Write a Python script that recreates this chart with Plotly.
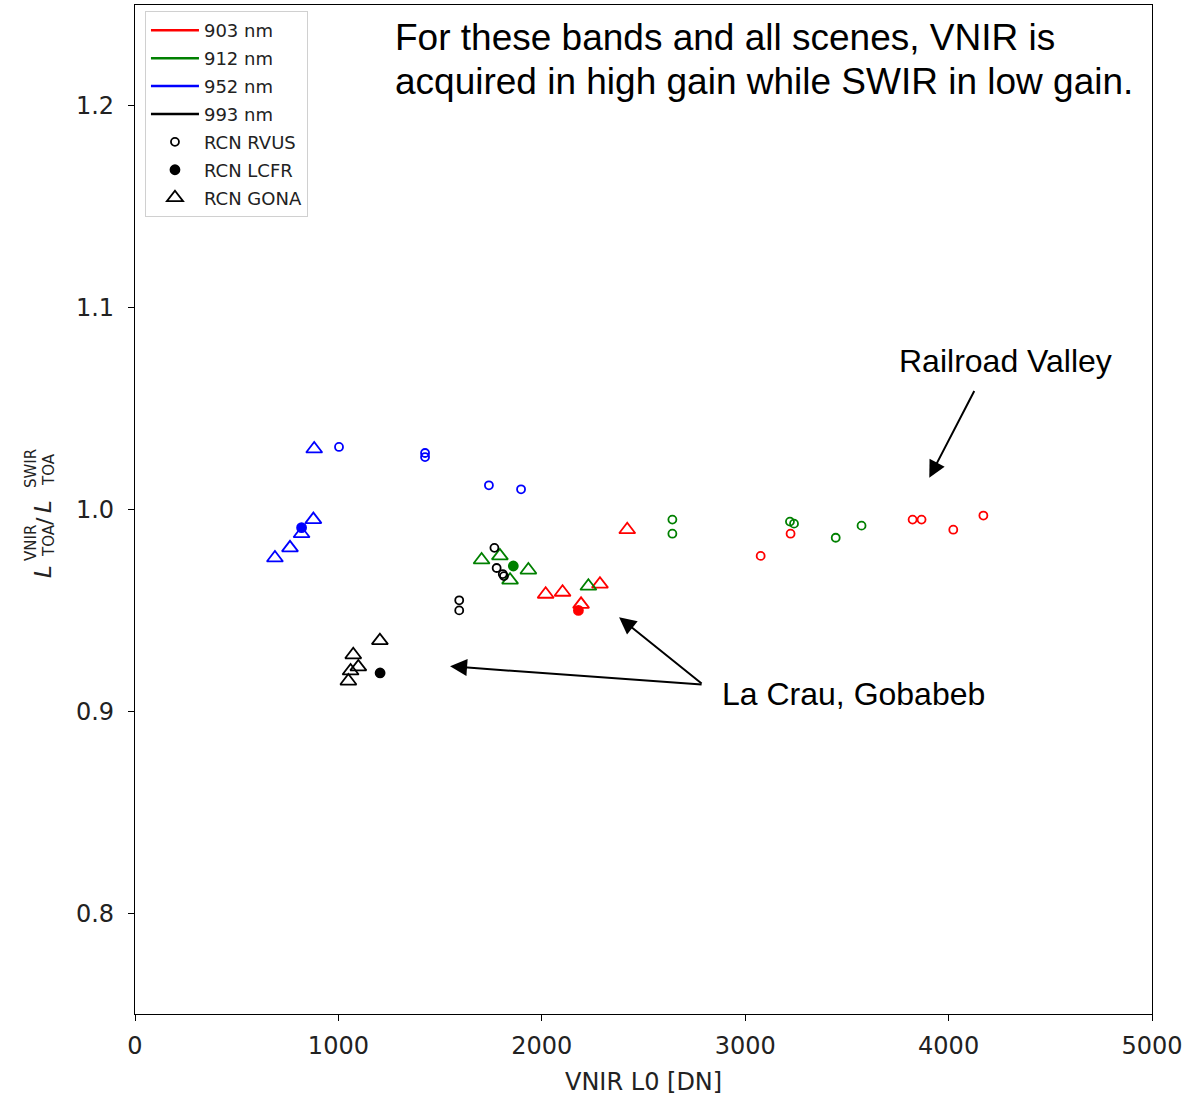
import plotly.graph_objects as go

# Bands and their colours
bands = ["903 nm", "912 nm", "952 nm", "993 nm"]
band_colors = ["#ff0000", "#008000", "#0000ff", "#000000"]

# Sites and marker styles
sites = ["RCN RVUS", "RCN LCFR", "RCN GONA"]
site_symbols = ["circle-open", "circle", "triangle-up-open"]
site_sizes = [8, 9, 14]

# VNIR L0 [DN] and VNIR/SWIR TOA radiance ratio, per band and site
rvus_x = [
    [3076, 3223, 3823, 3867, 4023, 4171],
    [2642, 2642, 3220, 3240, 3445, 3572],
    [1003, 1426, 1426, 1740, 1898],
    [1767, 1778, 1808, 1814, 1594, 1594],
]
rvus_y = [
    [0.977, 0.988, 0.995, 0.995, 0.990, 0.997],
    [0.995, 0.988, 0.994, 0.993, 0.986, 0.992],
    [1.031, 1.028, 1.026, 1.012, 1.010],
    [0.981, 0.971, 0.968, 0.967, 0.955, 0.950],
]
lcfr_x = [[2180], [1860], [819], [1205]]
lcfr_y = [[0.950], [0.972], [0.991], [0.919]]
gona_x = [
    [2420, 2019, 2102, 2286, 2193],
    [1704, 1794, 1934, 1844, 2229],
    [881, 877, 819, 762, 688],
    [1204, 1073, 1098, 1060, 1049],
]
gona_y = [
    [0.990, 0.958, 0.959, 0.963, 0.953],
    [0.975, 0.977, 0.970, 0.965, 0.962],
    [1.030, 0.995, 0.988, 0.981, 0.976],
    [0.935, 0.928, 0.922, 0.920, 0.915],
]

x_ticks = [0, 1000, 2000, 3000, 4000, 5000]
y_ticks = [0.8, 0.9, 1.0, 1.1, 1.2]

TICK_FONT = dict(family="DejaVu Sans", size=24, color="#222")
NOTE_FONT = dict(family="Liberation Sans, Arial", size=37, color="#000")
SITE_FONT = dict(family="Liberation Sans, Arial", size=32, color="#000")

fig = go.Figure()

site_x = [rvus_x, lcfr_x, gona_x]
site_y = [rvus_y, lcfr_y, gona_y]

for b, color in enumerate(band_colors):
    for s in range(len(sites)):
        fig.add_trace(go.Scatter(
            x=site_x[s][b], y=site_y[s][b], mode="markers",
            marker=dict(symbol=site_symbols[s], size=site_sizes[s], color=color,
                        line=dict(width=1.8, color=color)),
            showlegend=False, hoverinfo="skip",
        ))

# Legend entries: bands as coloured lines, sites as black markers
for name, color in zip(bands, band_colors):
    fig.add_trace(go.Scatter(
        x=[None], y=[None], mode="lines", name=name, legendgroup=name,
        line=dict(color=color, width=2.5),
    ))
for name, sym, size in zip(sites, site_symbols, site_sizes):
    fig.add_trace(go.Scatter(
        x=[None], y=[None], mode="markers", name=name, legendgroup=name,
        marker=dict(symbol=sym, size=size, color="#000", line=dict(width=1.8, color="#000")),
    ))

annotations = [
    dict(x=1268, y=1.234, text="For these bands and all scenes, VNIR is", xanchor="left", yanchor="middle",
         showarrow=False, font=NOTE_FONT),
    dict(x=1268, y=1.2122, text="acquired in high gain while SWIR in low gain.", xanchor="left",
         yanchor="middle", showarrow=False, font=NOTE_FONT),
    dict(x=3746, y=1.0734, text="Railroad Valley", xanchor="left", yanchor="middle",
         showarrow=False, font=SITE_FONT),
    dict(x=2876, y=0.9088, text="La Crau, Gobabeb", xanchor="left", yanchor="middle",
         showarrow=False, font=SITE_FONT),
]

# Arrows (head at x, y; tail at ax, ay)
arrows = [
    (3905, 1.0157, 4130, 1.0595),
    (1549, 0.9223, 2793, 0.9132),
    (2380, 0.9466, 2793, 0.9132),
]
for hx, hy, tx, ty in arrows:
    annotations.append(dict(
        x=hx, y=hy, ax=tx, ay=ty, xref="x", yref="y", axref="x", ayref="y",
        text="", showarrow=True, arrowhead=2, arrowsize=1.7, arrowwidth=2,
        arrowcolor="#000", standoff=0, startstandoff=0,
    ))

# Pixel helpers for text placed outside the plotting area
def px_to_paper_x(px):
    return (px - 135) / 1017.0

def px_to_paper_y(py):
    return (1014 - py) / 1009.0

# X-axis title
annotations.append(dict(
    x=0.5, y=px_to_paper_y(1082), xref="paper", yref="paper", text="VNIR L0 [DN]",
    showarrow=False, xanchor="center", yanchor="middle",
    font=dict(family="DejaVu Sans", size=24, color="#222"),
))

# Y-axis label L_TOA^VNIR / L_TOA^SWIR built from stacked pieces
ylabel_parts = [
    ("<i>L</i>", 43, 572, 23),
    ("VNIR", 31, 543, 15),
    ("TOA", 49, 541, 15),
    ("/", 44, 521, 22),
    ("<i>L</i>", 43, 507, 23),
    ("SWIR", 31, 469, 15),
    ("TOA", 49, 470, 15),
]
for txt, px, py, fs in ylabel_parts:
    annotations.append(dict(
        x=px_to_paper_x(px), y=px_to_paper_y(py), xref="paper", yref="paper",
        text=txt, textangle=-90, showarrow=False, xanchor="center", yanchor="middle",
        font=dict(family="DejaVu Sans", size=fs, color="#222"),
    ))

fig.update_layout(
    width=1198, height=1095,
    margin=dict(l=135, r=46, t=5, b=81),
    plot_bgcolor="#fff", paper_bgcolor="#fff",
    annotations=annotations,
    legend=dict(
        x=0.0098, y=0.994, xanchor="left", yanchor="top",
        bgcolor="rgba(255,255,255,0.8)", bordercolor="#d0d0d0", borderwidth=1,
        font=dict(family="DejaVu Sans", size=18, color="#222"),
        tracegroupgap=1.5, itemwidth=48,
    ),
    xaxis=dict(
        range=[0, 5000], tickvals=x_ticks, ticktext=[str(v) for v in x_ticks],
        showline=True, mirror=True, linecolor="#000", linewidth=1.3,
        ticks="outside", ticklen=6, tickcolor="#000", tickwidth=1.3,
        showgrid=False, zeroline=False, tickfont=TICK_FONT, ticklabelstandoff=4,
        automargin=False,
    ),
    yaxis=dict(
        range=[0.75, 1.25], tickvals=y_ticks, ticktext=[f"{v:.1f}" for v in y_ticks],
        showline=True, mirror=True, linecolor="#000", linewidth=1.3,
        ticks="outside", ticklen=6, tickcolor="#000", tickwidth=1.3,
        showgrid=False, zeroline=False, tickfont=TICK_FONT, ticklabelstandoff=9,
        automargin=False,
    ),
)

fig.write_html("out.html")
